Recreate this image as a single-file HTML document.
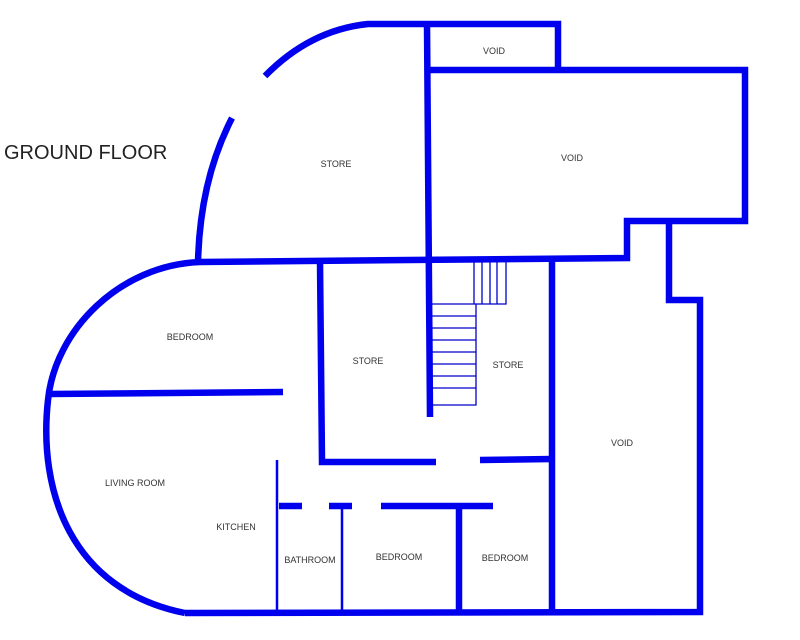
<!DOCTYPE html>
<html><head><style>body{margin:0;background:#fff}svg{display:block}text{font-family:"Liberation Sans",sans-serif;fill:#333}</style></head><body>
<svg width="800" height="640" viewBox="0 0 800 640" xmlns="http://www.w3.org/2000/svg">
<g fill="none" stroke="#0000ee" stroke-width="6.5" stroke-linecap="butt" stroke-linejoin="miter">
<path d="M265,76 Q310,30 368,24 L558,24 L558,70"/>
<path d="M427,70 L745,70 L745,221 L627,221 L627,258 L200,262"/>
<path d="M232,118 Q200,180 198,262"/>
<path d="M427,24 L430,417"/>
<path d="M669,221 L669,300 L700,300 L700,612 L185,613"/>
<path d="M200,262 C120,265 55,330 48,400 C38,490 70,590 185,613"/>
<path d="M48,394 L283,392"/>
<path d="M320,262 L322,462 L436,462"/>
<path d="M480,460 L552,459"/>
<path d="M552,260 L552,610"/>
<path d="M279,506 L302,506 M329,506 L352,506 M381,506 L493,506"/>
<path d="M459,506 L459,610"/>
</g>
<g fill="none" stroke="#0000ee" stroke-width="2.5">
<path d="M277,460 L277,612 M342,506 L342,612"/>
</g>
<g fill="none" stroke="#0000cc" stroke-width="1.3">
<path d="M431,304 L506,304 L506,262 M474,262 L474,304 M482,262 L482,304 M490,262 L490,304 M497,262 L497,304"/>
<path d="M476,304 L476,405 L431,405"/>
<path d="M431,316 L476,316 M431,328 L476,328 M431,340 L476,340 M431,352 L476,352 M431,364 L476,364 M431,376 L476,376 M431,388 L476,388"/>
</g>
<text x="4" y="159" font-size="20" style="fill:#222">GROUND FLOOR</text>
<g font-size="9" text-anchor="middle">
<text x="494" y="54">VOID</text>
<text x="336" y="167">STORE</text>
<text x="572" y="161">VOID</text>
<text x="190" y="340">BEDROOM</text>
<text x="368" y="364">STORE</text>
<text x="508" y="368">STORE</text>
<text x="622" y="446">VOID</text>
<text x="135" y="486">LIVING ROOM</text>
<text x="236" y="530">KITCHEN</text>
<text x="310" y="563">BATHROOM</text>
<text x="399" y="560">BEDROOM</text>
<text x="505" y="561">BEDROOM</text>
</g>
</svg>
</body></html>
